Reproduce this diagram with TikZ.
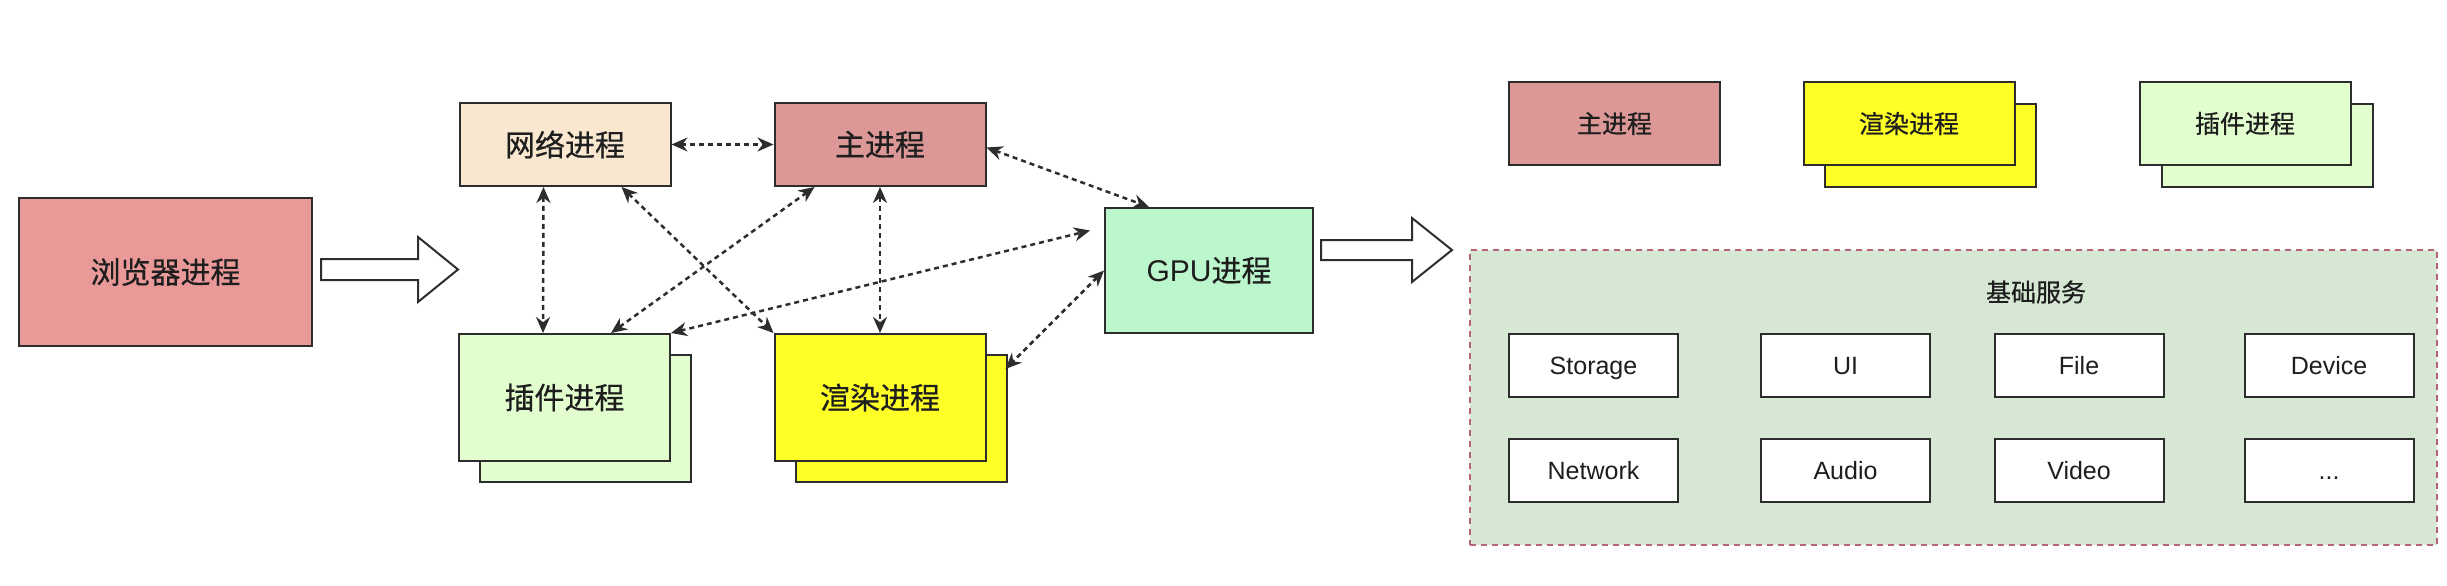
\documentclass[tikz,border=0pt]{standalone}
\usepackage{fontspec}
\setmainfont{Liberation Sans}
\newfontfamily\cjk[FakeBold=0.6]{Noto Sans CJK SC}
\usetikzlibrary{arrows.meta,calc}

\definecolor{linegray}{RGB}{45,45,45}
\definecolor{textgray}{RGB}{30,30,30}
\definecolor{browserfill}{RGB}{234,153,153}
\definecolor{netfill}{RGB}{249,231,208}
\definecolor{mainfill}{RGB}{219,152,150}
\definecolor{plugfill}{RGB}{226,254,206}
\definecolor{renderfill}{RGB}{255,255,40}
\definecolor{gpufill}{RGB}{188,246,204}
\definecolor{svcfill}{RGB}{214,232,212}
\definecolor{svcline}{RGB}{184,100,120}

\begin{document}
\begin{tikzpicture}[x=1pt,y=-1pt]
      \tikzstyle{proc}=[draw=linegray,line width=2pt,inner sep=0pt,minimum width=211pt,minimum height=127pt,text=textgray,font=\cjk\fontsize{30}{34}\selectfont]
      \tikzstyle{legend}=[proc,minimum height=83pt,font=\cjk\fontsize{25}{28}\selectfont]
      \tikzstyle{svcbox}=[draw=linegray,line width=2pt,fill=white,inner sep=0pt,minimum width=169pt,minimum height=63pt,text height=18pt,text depth=0pt,text=textgray,font=\fontsize{25}{29}\selectfont]
      \tikzstyle{edge}=[draw=linegray,line width=2.5pt,dash pattern=on 5pt off 4pt,{Stealth[length=16pt,width=14pt]}-{Stealth[length=16pt,width=14pt]}]
      \tikzstyle{bigarrow}=[draw=linegray,line width=2pt,fill=white,line join=miter]
      \useasboundingbox (0,0) rectangle (2447,586);
      % left part: processes
      \node[proc,fill=browserfill,minimum width=293pt,minimum height=148pt] (browser) at (165.5,272) {浏览器进程};
      \path[bigarrow] (321,259) -- (418,259) -- (418,237) -- (458,269.5) -- (418,302) -- (418,280) -- (321,280) -- cycle;
      \node[proc,fill=netfill,minimum height=83pt] (net) at (565,144.5) {网络进程};
      \node[proc,fill=mainfill,minimum height=83pt] (main) at (880,144.5) {主进程};
      \node[proc,fill=plugfill] (plugB) at (585.5,418.5) {};
      \node[proc,fill=plugfill] (plug) at (564.5,397.5) {插件进程};
      \node[proc,fill=renderfill] (renderB) at (901,418.5) {};
      \node[proc,fill=renderfill] (render) at (880,397.5) {渲染进程};
      \node[proc,fill=gpufill,minimum width=208pt,minimum height=125pt,font=\fontsize{30}{34}\selectfont] (gpu) at (1209,270.5) {GPU{\cjk 进程}};
      \path[edge] (net.east) -- (main.west);
      \path[edge] ($(net.south west)+(85,0)$) -- ($(plug.north west)+(85,0)$);
      \path[edge] ($(net.south west)+(163,0)$) -- (render.north west);
      \path[edge] ($(main.south west)+(41,0)$) -- ($(plug.north west)+(153,0)$);
      \path[edge] (main.south) -- (render.north);
      \path[edge] (plug.north east) -- ($(gpu.west)+(-14,-40)$);
      \path[edge] ($(main.east)+(0,3)$) -- ($(gpu.north west)+(45,0)$);
      \path[edge] (gpu.west) -- ($(renderB.north east)+(-2,15)$);
      \path[bigarrow] (1321,240) -- (1412,240) -- (1412,218) -- (1452,250) -- (1412,282) -- (1412,260) -- (1321,260) -- cycle;
      % right part: legend
      \node[legend,fill=mainfill] (lmain) at (1614.5,123.5) {主进程};
      \node[legend,fill=renderfill] (lrenderB) at (1930,145) {};
      \node[legend,fill=renderfill] (lrender) at (1909,123.5) {渲染进程};
      \node[legend,fill=plugfill] (lplugB) at (2267,145) {};
      \node[legend,fill=plugfill] (lplug) at (2245,123.5) {插件进程};
      % basic services
      \node[draw=svcline,fill=svcfill,line width=2pt,dash pattern=on 6pt off 5pt,minimum width=967pt,minimum height=295pt] (svc) at (1953.5,397.5) {};
      \node[text=textgray,font=\cjk\fontsize{25}{28}\selectfont] (svctitle) at (2036,292) {基础服务};
      \node[svcbox] (storage) at (1593.5,365.5) {Storage};
      \node[svcbox] (ui) at (1845.5,365.5) {UI};
      \node[svcbox] (file) at (2079,365.5) {File};
      \node[svcbox] (device) at (2329,365.5) {Device};
      \node[svcbox] (network) at (1593.5,470.5) {Network};
      \node[svcbox] (audio) at (1845.5,470.5) {Audio};
      \node[svcbox] (video) at (2079,470.5) {Video};
      \node[svcbox] (more) at (2329,470.5) {...};
    \end{tikzpicture}
\end{document}
